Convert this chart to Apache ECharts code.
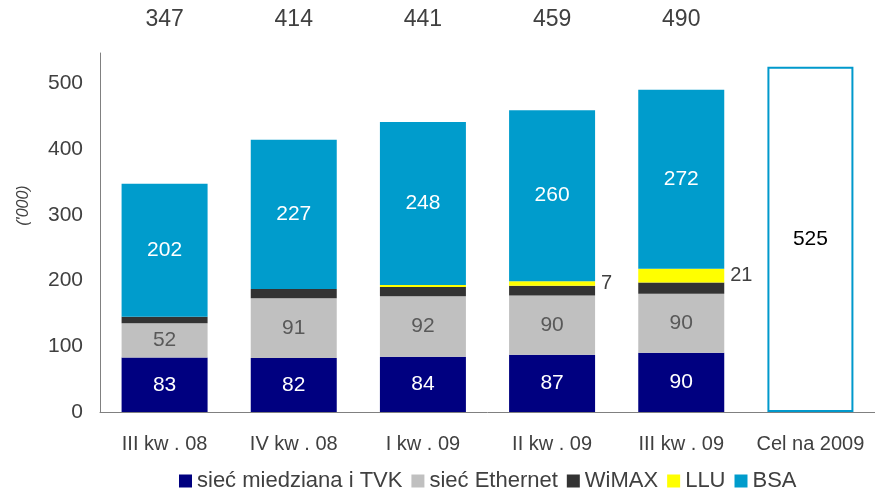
<!DOCTYPE html>
<html>
<head>
<meta charset="utf-8">
<script src="https://cdn.jsdelivr.net/npm/echarts@6/dist/echarts.min.js"></script>
<style>
  html, body { margin: 0; padding: 0; background: #fff; }
  #chart { width: 875px; height: 495px; }
</style>
</head>
<body>
<div id="chart"></div>
<script>
// dane wykresu
var kwartaly  = ['III kw . 08', 'IV kw . 08', 'I kw . 09', 'II kw . 09', 'III kw . 09', 'Cel na 2009'];
var sumy      = ['347', '414', '441', '459', '490', ''];
var miedziana = [83, 82, 84, 87, 90, '-'];
var ethernet  = [52, 91, 92, 90, 90, '-'];
var wimax     = [10, 14, 14, 15, 17, '-'];
var llu       = [0, 0, 3, 7, 21, '-'];
var bsa       = [202, 227, 248, 260, 272, '-'];
var cel       = ['-', '-', '-', '-', '-', 525];

var font = 'Liberation Sans, Arial, sans-serif';
var szary = '#404040';

var chart = echarts.init(document.getElementById('chart'));

function warstwa(name, data, color, label) {
    return {
        name: name,
        type: 'bar',
        stack: 'razem',
        barWidth: 86,
        data: data,
        itemStyle: { color: color },
        label: label || { show: false }
    };
}

var opt = {
    animation: false,
    textStyle: { fontFamily: font },
    grid: { left: 100, width: 780, top: 53, bottom: 83 },
    legend: {
        bottom: -2,
        left: 174,
        itemWidth: 13,
        itemHeight: 13,
        itemGap: 9,
        icon: 'rect',
        textStyle: { fontSize: 22, color: szary, fontFamily: font },
        data: ['sieć miedziana i TVK', 'sieć Ethernet', 'WiMAX', 'LLU', 'BSA']
    },
    xAxis: [{
        type: 'category',
        data: kwartaly,
        axisLine: { lineStyle: { color: '#808080', width: 1 } },
        axisTick: { show: false },
        axisLabel: { interval: 0, fontSize: 20, color: szary, margin: 22, fontFamily: font }
    }, {
        type: 'category',
        position: 'top',
        data: sumy,
        axisLine: { show: false },
        axisTick: { show: false },
        axisLabel: { interval: 0, fontSize: 23, color: szary, margin: 22, fontFamily: font }
    }],
    yAxis: {
        type: 'value',
        min: 0,
        max: 546,
        interval: 100,
        name: "('000)",
        nameLocation: 'middle',
        nameRotate: 90,
        nameGap: 68,
        nameTextStyle: { fontSize: 16, color: szary, fontStyle: 'italic', padding: [0, 0, 0, 54] },
        axisLine: { show: true, lineStyle: { color: '#808080', width: 1 } },
        axisTick: { show: false },
        splitLine: { show: false },
        axisLabel: { fontSize: 21, color: szary, margin: 17, showMaxLabel: false }
    },
    series: [
        warstwa('sieć miedziana i TVK', miedziana, '#000080',
            { show: true, position: 'inside', color: '#fff', fontSize: 21 }),
        warstwa('sieć Ethernet', ethernet, '#c0c0c0',
            { show: true, position: 'inside', color: '#595959', fontSize: 21 }),
        warstwa('WiMAX', wimax, '#333333'),
        warstwa('LLU', llu, '#ffff00', {
            show: true, position: 'right', distance: 6, color: szary, fontSize: 20,
            formatter: function (p) { return p.value >= 5 ? p.value : ''; }
        }),
        warstwa('BSA', bsa, '#009ccc',
            { show: true, position: 'inside', color: '#fff', fontSize: 21 }),
        {
            name: 'Cel',
            type: 'bar',
            stack: 'razem',
            barWidth: 86,
            data: cel,
            itemStyle: { color: '#fff', borderColor: '#0099cc', borderWidth: 2 },
            label: { show: true, position: 'inside', color: '#000', fontSize: 21 }
        }
    ]
};

chart.setOption(opt);
</script>
</body>
</html>
